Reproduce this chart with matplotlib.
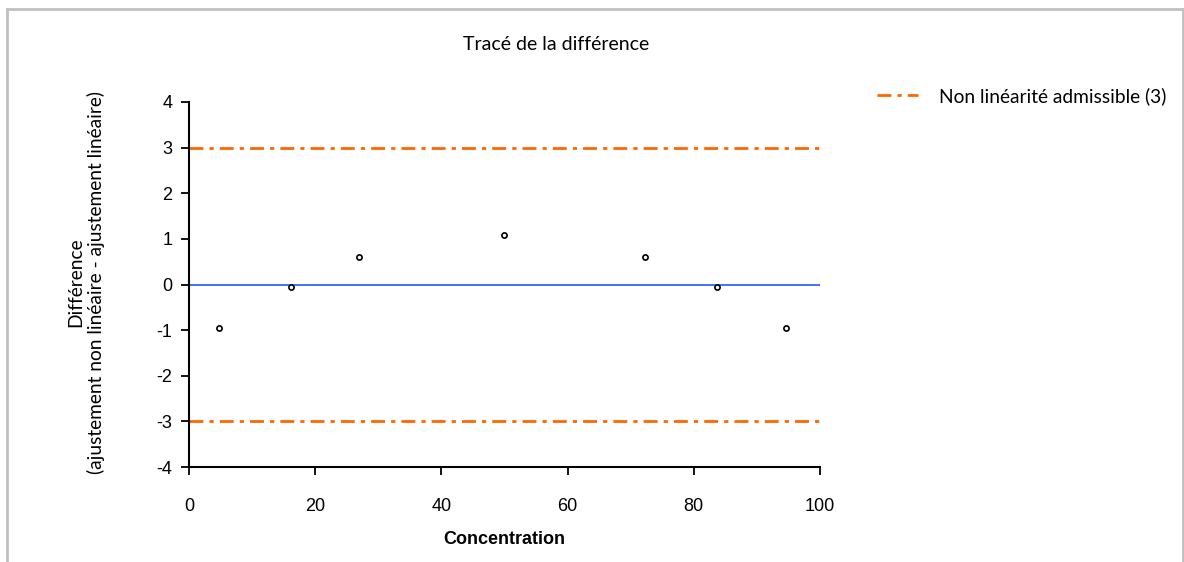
import matplotlib
matplotlib.use('Agg')
import matplotlib.pyplot as plt
from matplotlib.lines import Line2D

# ------------------------------------------------------------------
# Données
# ------------------------------------------------------------------
concentration = [4.8, 16.1, 27.0, 49.9, 72.3, 83.6, 94.6]
difference = [-0.95, -0.06, 0.6, 1.09, 0.6, -0.06, -0.95]
limite = 3
x_min, x_max = 0, 100

titre = 'Tracé de la différence'
label_legende = 'Non linéarité admissible (3)'
label_x = 'Concentration'
label_y = 'Différence\n(ajustement non linéaire - ajustement linéaire)'

orange = '#FF6600'
bleu = '#3366FF'
txt_font = ['Lato', 'DejaVu Sans']
num_font = ['Liberation Sans', 'DejaVu Sans']

plt.rcParams['axes.unicode_minus'] = False

# ------------------------------------------------------------------
# Figure
# ------------------------------------------------------------------
fig = plt.figure(figsize=(11.84, 5.62), dpi=100)
ax = fig.add_axes([189 / 1184, 1 - 467 / 562, (820 - 189) / 1184, (467 - 102) / 562])

# cadre gris autour du graphique
gris = '#c0c0c0'
fig.add_artist(Line2D([6.5 / 1184, 6.5 / 1184], [0, 1 - 8.5 / 562], transform=fig.transFigure, color=gris, lw=2))
fig.add_artist(Line2D([6.5 / 1184, 1182.5 / 1184], [1 - 8.5 / 562, 1 - 8.5 / 562], transform=fig.transFigure, color=gris, lw=2))
fig.add_artist(Line2D([1182.5 / 1184, 1182.5 / 1184], [0, 1 - 8.5 / 562], transform=fig.transFigure, color=gris, lw=2))

# lignes
tirets = (5, 2.2, 1.5, 2.2)
ax.plot([x_min, x_max], [limite, limite], color=orange, lw=2, dashes=tirets, label=label_legende)
ax.plot([x_min, x_max], [-limite, -limite], color=orange, lw=2, dashes=tirets)
ax.plot([x_min, x_max], [0, 0], color=bleu, lw=1.3)
ax.scatter(concentration, difference, s=14, facecolors='white', edgecolors='black', linewidths=1.2, zorder=3)

ax.set_xlim(x_min, x_max)
ax.set_ylim(-4, 4)
ax.set_xticks(range(0, 101, 20))
ax.set_yticks(range(-4, 5))
for s in ['top', 'right']:
    ax.spines[s].set_visible(False)
for s in ['left', 'bottom']:
    ax.spines[s].set_linewidth(1.5)
ax.tick_params(axis='both', direction='out', length=6, width=1.3, labelsize=13)
ax.tick_params(axis='x', pad=16)
ax.tick_params(axis='y', pad=6)
for lab in ax.get_xticklabels() + ax.get_yticklabels():
    lab.set_family(num_font)

ax.set_xlabel(label_x, family=num_font, fontsize=13, fontweight='bold', labelpad=12)
fig.text(86 / 1184, 1 - 282 / 562, label_y, family=txt_font, fontsize=13.8, rotation=90,
         ha='center', va='center', multialignment='center', linespacing=1.15)

fig.text(556 / 1184, 1 - 44 / 562, titre, family=txt_font, fontsize=14, ha='center', va='center')

fig.legend(loc='upper left', bbox_to_anchor=(860 / 1184, 1 - 70 / 562), frameon=False,
           prop={'family': txt_font, 'size': 13.8}, handlelength=2.1, handletextpad=1.1)

fig.savefig('out.png', dpi=100)
